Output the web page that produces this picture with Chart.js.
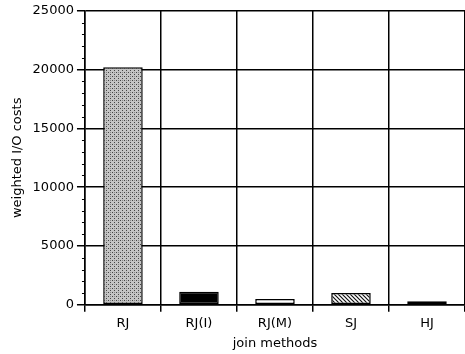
<!DOCTYPE html>
<html>
<head>
<meta charset="utf-8">
<script src="https://cdn.jsdelivr.net/npm/chart.js@4.4.1/dist/chart.umd.min.js"></script>
<style>
  html, body { margin: 0; padding: 0; background: #fff; }
  #wrap { width: 465px; height: 354px; position: relative; }
</style>
</head>
<body>
<div id="wrap"><canvas id="ioChart"></canvas></div>
<script>
const methods = ['RJ', 'RJ(I)', 'RJ(M)', 'SJ', 'HJ'];
const ioCosts = [20200, 1100, 500, 1000, 300];
const yTicks = [0, 5000, 10000, 15000, 20000, 25000];
const minorStep = 1000;

function makePattern(draw, size) {
  const c = document.createElement('canvas');
  c.width = size; c.height = size;
  const g = c.getContext('2d');
  g.fillStyle = '#fff';
  g.fillRect(0, 0, size, size);
  draw(g, size);
  return document.getElementById('ioChart').getContext('2d').createPattern(c, 'repeat');
}

const stipple = makePattern((g) => {
  g.fillStyle = '#c4c4c4';
  g.fillRect(0, 0, 4, 4);
  g.fillStyle = '#444';
  g.fillRect(0, 0, 1, 1);
  g.fillRect(2, 2, 1, 1);
  g.fillStyle = '#888';
  g.fillRect(2, 0, 1, 1);
}, 4);

const dashSlash = makePattern((g) => {
  g.strokeStyle = '#222';
  g.lineWidth = 1;
  g.beginPath();
  g.moveTo(0, 6); g.lineTo(3, 3);
  g.stroke();
}, 6);

const backSlash = makePattern((g, s) => {
  g.strokeStyle = '#111';
  g.lineWidth = 1.2;
  g.beginPath();
  g.moveTo(0, 0); g.lineTo(s, s);
  g.moveTo(-1, s - 1); g.lineTo(1, s + 1);
  g.moveTo(s - 1, -1); g.lineTo(s + 1, 1);
  g.stroke();
}, 4);

const dotted = makePattern((g) => {
  g.fillStyle = '#999';
  g.fillRect(0, 0, 1, 1);
  g.fillRect(2, 1, 1, 1);
}, 3);

const minorTicks = {
  id: 'minorTicks',
  afterDraw(chart) {
    const y = chart.scales.y;
    const ctx = chart.ctx;
    ctx.save();
    ctx.strokeStyle = '#000';
    ctx.lineWidth = 1;
    ctx.beginPath();
    for (let v = 0; v <= y.max; v += minorStep) {
      if (v % 5000 === 0) continue;
      const py = Math.round(y.getPixelForValue(v)) + 0.5;
      ctx.moveTo(y.right - 3, py);
      ctx.lineTo(y.right, py);
    }
    ctx.stroke();
    ctx.restore();
  }
};

const font = { family: 'DejaVu Sans', size: 13 };

new Chart(document.getElementById('ioChart'), {
  type: 'bar',
  data: {
    labels: methods,
    datasets: [{
      data: ioCosts,
      backgroundColor: [stipple, '#000', dashSlash, backSlash, dotted],
      borderColor: '#000',
      borderWidth: 1.5,
      borderSkipped: false,
      barPercentage: 0.52,
      categoryPercentage: 1
    }]
  },
  options: {
    responsive: true,
    maintainAspectRatio: false,
    animation: false,
    events: [],
    layout: { padding: { top: 9, right: 0, left: 10, bottom: 3 } },
    plugins: { legend: { display: false }, tooltip: { enabled: false } },
    scales: {
      x: {
        grid: { color: '#000', lineWidth: 1.5, tickLength: 7 },
        border: { color: '#000', width: 1.5 },
        ticks: { color: '#000', font, padding: 4 },
        title: { display: true, text: 'join methods', color: '#000', font, padding: { top: 0, bottom: 0 } }
      },
      y: {
        min: 0,
        max: 25000,
        afterBuildTicks: (scale) => { scale.ticks = yTicks.map((v) => ({ value: v })); },
        grid: { color: '#000', lineWidth: 1.5, tickLength: 8 },
        border: { color: '#000', width: 1.5 },
        ticks: { color: '#000', font, padding: 3, callback: (v) => String(v) },
        title: { display: true, text: 'weighted I/O costs', color: '#000', font, padding: { top: 0, bottom: 4 } }
      }
    }
  },
  plugins: [minorTicks]
});
</script>
</body>
</html>
